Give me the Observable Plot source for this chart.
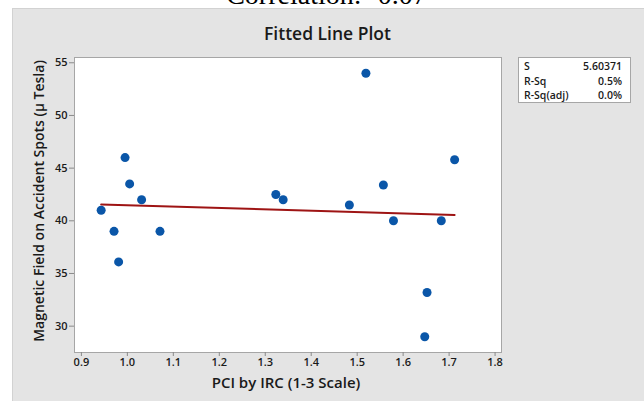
<!DOCTYPE html>
<html>
<head>
<meta charset="utf-8">
<script src="https://cdn.jsdelivr.net/npm/d3@7"></script>
<script src="https://cdn.jsdelivr.net/npm/@observablehq/plot@0.6"></script>
<style>
  html, body { margin: 0; padding: 0; background: #fff; }
  #wrap { position: relative; width: 644px; height: 401px; overflow: hidden; background: #fff; font-family: "Open Sans", sans-serif; }
  #panel { position: absolute; left: 12px; top: 8px; width: 632px; height: 393px; background: #e4e4e4; border-left: 1px solid #d2d2d2; border-top: 1px solid #d2d2d2; box-sizing: border-box; }
  #corr { position: absolute; left: 0; width: 653px; top: -19px; text-align: center; font-family: "Liberation Serif", "Times New Roman", serif; font-size: 28px; line-height: 28px; color: #000; white-space: nowrap; }
  #title { position: absolute; left: 0; width: 655px; top: 22px; text-align: center; font-size: 17.5px; font-weight: 600; color: #1a1a1a; line-height: 22px; }
  #chart { position: absolute; left: 0; top: 0; }
  #xlabel { position: absolute; left: 0; width: 572px; top: 372px; text-align: center; font-size: 15px; font-weight: 600; color: #1a1a1a; line-height: 20px; white-space: nowrap; }
  #ylabel { position: absolute; left: 39px; top: 201px; transform: translate(-50%, -50%) rotate(-90deg); font-size: 14px; font-weight: 600; color: #1a1a1a; white-space: nowrap; line-height: 18px; }
  #legend { position: absolute; left: 518px; top: 57px; width: 113px; height: 46px; background: #fff; border: 1px solid #a6a6a6; box-sizing: border-box; padding: 1px 8px 0 5px; font-size: 10.5px; font-weight: 600; color: #1a1a1a; }
  #legend .row { display: flex; justify-content: space-between; line-height: 14.5px; }
</style>
</head>
<body>
<div id="wrap">
  <div id="panel"></div>
  <div id="corr">Correlation: -0.07</div>
  <div id="title">Fitted Line Plot</div>
  <div id="chart"></div>
  <div id="xlabel">PCI by IRC (1-3 Scale)</div>
  <div id="ylabel">Magnetic Field on Accident Spots (μ Tesla)</div>
  <div id="legend"></div>
</div>
<script>
// Data
const pci = [0.943, 0.971, 0.981, 0.995, 1.005, 1.031, 1.071, 1.323, 1.339, 1.483, 1.519, 1.557, 1.579, 1.647, 1.652, 1.683, 1.712];
const magField = [41.0, 39.0, 36.1, 46.0, 43.5, 42.0, 39.0, 42.5, 42.0, 41.5, 54.0, 43.4, 40.0, 29.0, 33.2, 40.0, 45.8];
const xTicks = [0.9, 1.0, 1.1, 1.2, 1.3, 1.4, 1.5, 1.6, 1.7, 1.8];
const yTicks = [30, 35, 40, 45, 50, 55];
const statNames = ["S", "R-Sq", "R-Sq(adj)"];
const statValues = ["5.60371", "0.5%", "0.0%"];

const data = pci.map((x, i) => ({x, y: magField[i]}));

const chart = Plot.plot({
  width: 644,
  height: 401,
  marginLeft: 74,
  marginRight: 143,
  marginTop: 57,
  marginBottom: 49,
  style: {background: "transparent", fontFamily: "Open Sans, sans-serif", fontSize: "11px", color: "#1a1a1a"},
  x: {domain: [0.885, 1.814], label: null},
  y: {domain: [27.5, 55.5], label: null},
  marks: [
    Plot.frame({fill: "white", stroke: "#a6a6a6"}),
    Plot.axisX({ticks: xTicks, tickFormat: d3.format(".1f"), tickSize: 4, tickPadding: 2, stroke: "#8a8a8a", fill: "#1a1a1a", fontSize: 11, fontWeight: 600, label: null}),
    Plot.axisY({ticks: yTicks, tickSize: 5, tickPadding: 2, stroke: "#8a8a8a", fill: "#1a1a1a", fontSize: 11, fontWeight: 600, label: null}),
    Plot.linearRegressionY(data, {x: "x", y: "y", ci: 0, stroke: "#9e1414", strokeWidth: 2}),
    Plot.dot(data, {x: "x", y: "y", r: 4.5, fill: "#0a56a8", stroke: "none"})
  ]
});
document.getElementById("chart").appendChild(chart);

const legend = document.getElementById("legend");
statNames.forEach((n, i) => {
  const row = document.createElement("div");
  row.className = "row";
  row.innerHTML = `<span>${n}</span><span>${statValues[i]}</span>`;
  legend.appendChild(row);
});
</script>
</body>
</html>
